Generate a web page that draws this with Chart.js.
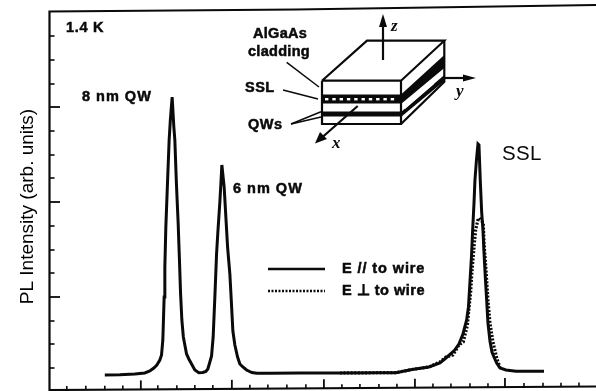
<!DOCTYPE html>
<html><head><meta charset="utf-8">
<style>html,body{margin:0;padding:0;background:#fff;overflow:hidden}#w{width:596px;height:391px}</style>
<script src="https://cdn.jsdelivr.net/npm/chart.js@4"></script>
</head><body><div id="w"><canvas id="c" width="596" height="391"></canvas></div>
<script>
// Energy (arb. units) and PL intensity (arb. units)
const parallelEnergy = [105,120,135,145,150,154,157,160,161.7,163,164.3,165,166,167.5,169.3,170.5,172.3,174,175,176.5,178.3,179.5,180.7,182,183.5,186.7,189,191.7,195,199,203,206,208,210,211.7,213.3,215,216.7,218,220,221,222,224.3,226,227.7,230,231.5,233,235,237.7,240,243,246.7,252,257,270,300,340,380,396,412,429,440,446,454,459,463,466.7,468.5,470,471.5,472.7,474,475,476.5,478,479,480.3,481.7,483,484,485.5,486.7,488,490,492,494,496.7,500,506,516,530,544];
const parallelIntensity = [17,17.3,18,19,21,24,27,32,37,52,95,125,165,205,252,272,295,265,252,210,169,135,99,72,55,38,33,28,22,19.3,19.5,20.5,23,30,36,55,95,138,160,190,208,227,205,175,145,118,90,61,47,35,28,25,22,19.5,18.7,18.7,19,19,19.3,19.3,22.5,25,29,34,41,48,58,72,85,110,135,162,188,212,232,248,247,212,180,162,140,112,92,69,51,40,35,29,24,22,20.7,20.7,20.7];
const perpendicularEnergy = [340,380,396,412,429,440,446,453,459,463.3,467.3,469,470.7,472,473,474.5,475.7,477,478,479.3,481,483.3,484.3,485.5,486.7,488,490,493,497,500];
const perpendicularIntensity = [19,19.3,19.3,22.5,25,30,35,37,47,50,66,83,100,120,132,150,162,168,172,174,172,169,145,130,112,92,69,50,33,25];
const energyTicks = [67,86,105,123,141,158,177,195,213,232,250,268,287,306,324,342,360,379,397,415,433,451,470,488,505,524,543,561,579];
const energyMajorTicks = [141,232,324,415,505];
const intensityTicks = [24,48,71,95,119,142,166,190,214,237,261,285,308,332,356];
const intensityMajorTicks = [95,190,285];
const toPts = (xs, ys) => xs.map((x, i) => ({x, y: ys[i]}));

const inkColor = '#0a0a0a';
const frameAndInset = {
  id: 'frameAndInset',
  afterDatasetsDraw(chart) {
    const c = chart.ctx, X = chart.scales.x, Y = chart.scales.y;
    const line = (pts, w) => { c.lineWidth = w; c.beginPath(); pts.forEach((p, i) => i ? c.lineTo(p[0], p[1]) : c.moveTo(p[0], p[1])); c.stroke(); };
    const text = (s, x, y, font, ls, heavy) => { c.font = font; c.letterSpacing = (ls || 0) + 'px'; c.textAlign = 'left'; c.textBaseline = 'middle'; c.fillText(s, x, y); if (heavy) { c.lineWidth = heavy; c.strokeText(s, x, y); } c.letterSpacing = '0px'; };
    c.save();
    c.strokeStyle = inkColor; c.fillStyle = inkColor; c.lineCap = 'butt'; c.lineJoin = 'miter';
    // frame (the scan is slightly tilted)
    line([[49.5, 391], [49.5, 11.5], [296, 9.5], [596, 5]], 2.2);
    line([[49, 390], [596, 386.5]], 2.2);
    // axis ticks through the scales
    const base = px => 390 - (px - 49) * 3.5 / 547;
    energyTicks.forEach(v => { const px = X.getPixelForValue(v), maj = energyMajorTicks.includes(v); line([[px, base(px)], [px, base(px) - (maj ? 9 : 4)]], maj ? 1.8 : 1.6); });
    intensityTicks.forEach(v => { const py = Y.getPixelForValue(v), maj = intensityMajorTicks.includes(v); line([[50, py], [maj ? 60 : 54.5, py]], maj ? 1.8 : 1.6); });
    // legend
    line([[268, 269], [325, 269]], 2.4);
    c.setLineDash([2, 1.5]); line([[268, 291], [325, 291]], 2.4); c.setLineDash([]);
    const b = 'bold 14.5px "Liberation Sans"';
    text('E // to wire', 342, 269, b, 0.9, 0.5);
    text('E \u22A5 to wire', 342, 290.5, b, 0.5, 0.5);
    // annotations
    text('1.4 K', 66, 28, b, 0.7, 0.5);
    text('8 nm QW', 82, 97, b, 1, 0.5);
    text('6 nm QW', 233, 189, b, 1, 0.5);
    text('AlGaAs', 253, 34, b, 0.3, 0.5);
    text('cladding', 248, 52, b, 0.3, 0.5);
    text('SSL', 245, 88, b, 0.5, 0.5);
    text('QWs', 248, 125, b, 0.5, 0.5);
    text('SSL', 502, 154, '20.5px "Liberation Sans"', 0.3);
    // inset: layered block
    line([[322, 80.7], [367, 40.7], [444.3, 40.7], [401, 80.7], [322, 80.7]], 2.2);
    line([[322, 80.7], [322, 124], [401, 124], [401, 80.7]], 2.2);
    line([[444.3, 40.7], [444.3, 81.7], [401, 124]], 2.2);
    c.fillRect(322, 94.5, 79, 9);
    c.fillRect(322, 111.5, 79, 5);
    c.fillStyle = '#fff';
    for (let x = 325; x < 398; x += 7.3) c.fillRect(x, 98, 3.4, 2.4);
    c.fillStyle = inkColor;
    c.beginPath(); c.moveTo(401, 94.5); c.lineTo(444.3, 55); c.lineTo(444.3, 68); c.lineTo(401, 104); c.closePath(); c.fill();
    c.beginPath(); c.moveTo(401, 112); c.lineTo(444.3, 75); c.lineTo(444.3, 81); c.lineTo(401, 117); c.closePath(); c.fill();
    c.fillStyle = '#fff';
    c.beginPath(); c.moveTo(403, 108); c.lineTo(432, 82); c.lineTo(434, 84); c.lineTo(405, 109); c.closePath(); c.fill();
    c.fillStyle = inkColor;
    // inset: arrows
    line([[383, 60], [383, 22]], 2.2);
    c.beginPath(); c.moveTo(383, 14); c.lineTo(379, 27); c.lineTo(387, 27); c.closePath(); c.fill();
    line([[444, 78], [468, 78]], 2.2);
    c.beginPath(); c.moveTo(476, 78); c.lineTo(463, 74.5); c.lineTo(463, 81.5); c.closePath(); c.fill();
    line([[357.7, 106], [322, 137.5]], 2.2);
    c.beginPath(); c.moveTo(315, 143.5); c.lineTo(320, 132); c.lineTo(327, 139); c.closePath(); c.fill();
    const it = 'italic bold 17px "Liberation Serif"';
    text('z', 391, 27, it); text('y', 456, 92, it); text('x', 332, 144, it);
    // inset: leaders
    line([[286.7, 62.3], [319, 87]], 1.5);
    line([[283, 90], [318, 99]], 1.5);
    line([[291, 124], [321, 111.7]], 1.5);
    line([[291, 124], [321, 117]], 1.5);
    c.restore();
  }
};

new Chart(document.getElementById('c'), {
  type: 'line',
  data: { datasets: [
    { label: 'E // to wire', data: toPts(parallelEnergy, parallelIntensity), borderColor: inkColor, borderWidth: 3, pointRadius: 0, tension: 0, clip: false, fill: false },
    { label: 'E \u22A5 to wire', data: toPts(perpendicularEnergy, perpendicularIntensity), borderColor: inkColor, borderWidth: 3.2, borderDash: [2, 1.6], pointRadius: 0, tension: 0, clip: false, fill: false }
  ]},
  options: {
    responsive: false, animation: false, parsing: true,
    layout: { padding: { left: 16, right: 0, top: 22, bottom: 0 } },
    plugins: { legend: { display: false }, title: { display: false }, tooltip: { enabled: false } },
    scales: {
      x: { type: 'linear', min: 49, max: 596, display: true, grid: { display: false, drawTicks: false }, border: { display: false }, ticks: { display: false } },
      y: { type: 'linear', min: 1, max: 370, display: true, grid: { display: false, drawTicks: false }, border: { display: false }, ticks: { display: false },
           title: { display: true, text: 'PL Intensity (arb. units)', color: '#000', font: { family: 'Liberation Sans', size: 19 }, padding: { top: 0, bottom: 10 } } }
    }
  },
  plugins: [frameAndInset]
});
</script></body></html>
